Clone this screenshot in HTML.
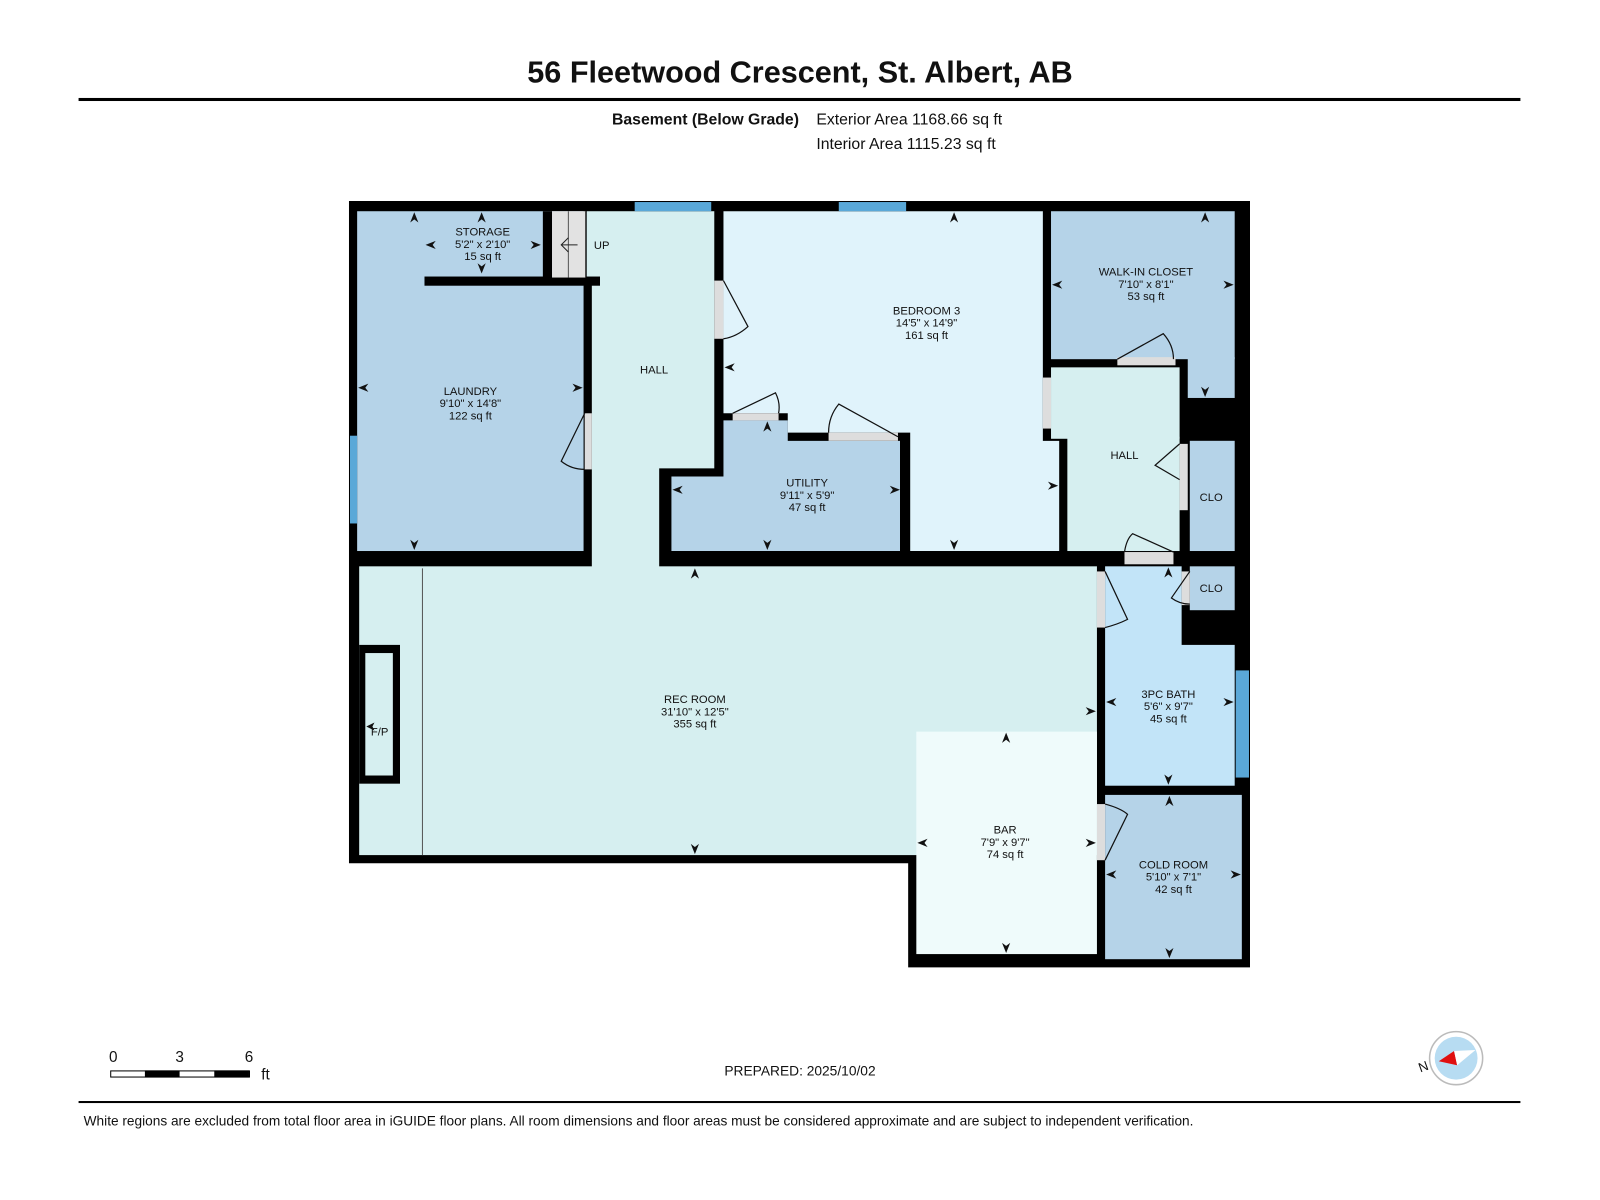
<!DOCTYPE html>
<html><head><meta charset="utf-8"><style>
html,body{margin:0;padding:0;background:#fff}
svg{display:block}
text{font-family:"Liberation Sans",Arial,sans-serif;fill:#111}
.l{font-size:11px;text-anchor:middle}
</style></head><body>
<svg width="1600" height="1200" viewBox="0 0 1568 1176" xmlns="http://www.w3.org/2000/svg">
<rect width="1568" height="1176" fill="#fff"/>
<text x="784" y="81" font-size="30" font-weight="bold" text-anchor="middle">56 Fleetwood Crescent, St. Albert, AB</text>
<rect x="77" y="96" width="1413" height="3" fill="#000"/>
<text x="783" y="122" font-size="15.5" font-weight="bold" text-anchor="end">Basement (Below Grade)</text>
<text x="800" y="122" font-size="15.5">Exterior Area 1168.66 sq ft</text>
<text x="800" y="146" font-size="15.5">Interior Area 1115.23 sq ft</text>

<!-- footprint -->
<polygon points="342,197 1225,197 1225,948 890,948 890,846 342,846" fill="#000"/>
<!-- storage + laundry -->
<rect x="350" y="207" width="222" height="333" fill="#b5d3e8"/>
<rect x="532" y="207" width="9" height="65" fill="#000"/>
<rect x="416" y="271" width="172" height="9" fill="#000"/>
<rect x="572" y="280" width="8" height="272" fill="#000"/>
<!-- stairs -->
<rect x="541" y="207" width="33" height="65" fill="#e2e2e2"/>
<line x1="557" y1="207" x2="557" y2="272" stroke="#555" stroke-width="1"/>
<line x1="574" y1="207" x2="574" y2="272" stroke="#222" stroke-width="1"/>
<path d="M566,240 H550 M557,233 L550,240 L557,247" stroke="#222" fill="none" stroke-width="1"/>
<!-- hall -->
<rect x="575" y="207" width="13" height="64" fill="#d6eff0"/>
<rect x="588" y="207" width="112" height="252" fill="#d6eff0"/>
<rect x="580" y="280" width="66" height="278" fill="#d6eff0"/>
<!-- rec room -->
<rect x="352" y="555" width="723" height="283" fill="#d6eff0"/>
<rect x="898" y="717" width="177" height="218" fill="#effbfb"/>
<line x1="414" y1="557" x2="414" y2="838" stroke="#555" stroke-width="1"/>
<rect x="352" y="632" width="40" height="136" fill="#000"/>
<rect x="358" y="640" width="27" height="120" fill="#d6eff0"/>
<!-- utility -->
<polygon points="658,467 709,467 709,412 772,412 772,432 882,432 882,540 658,540" fill="#b5d3e8"/>
<!-- bedroom -->
<polygon points="709,207 1022,207 1022,432 1038,432 1038,540 892,540 892,424 772,424 772,405 709,405" fill="#e0f3fb"/>
<!-- walk-in -->
<rect x="1030" y="207" width="180" height="145" fill="#b5d3e8"/>
<rect x="1164" y="350" width="46" height="40" fill="#b5d3e8"/>
<!-- hall2 -->
<rect x="1030" y="360" width="126" height="70" fill="#d6eff0"/>
<rect x="1046" y="428" width="110" height="112" fill="#d6eff0"/>
<!-- clo -->
<rect x="1166" y="432" width="44" height="108" fill="#b5d3e8"/>
<!-- bath -->
<rect x="1083" y="555" width="127" height="215" fill="#c2e4f8"/>
<rect x="1158" y="552" width="57" height="80" fill="#000"/>
<rect x="1166" y="555" width="44" height="43" fill="#b5d3e8"/>
<!-- cold room -->
<rect x="1083" y="779" width="134" height="161" fill="#b5d3e8"/>

<!-- windows -->
<rect x="622" y="198" width="75" height="9" fill="#5aa8d8"/>
<rect x="822" y="198" width="66" height="9" fill="#5aa8d8"/>
<rect x="343" y="427" width="7" height="86" fill="#5aa8d8"/>
<rect x="1211" y="657" width="13" height="105" fill="#5aa8d8"/>

<!-- doors -->
<g fill="#ddd" stroke="none">
<rect x="573" y="405" width="7" height="55"/>
<rect x="700" y="275" width="9" height="57"/>
<rect x="718" y="405" width="45" height="7"/>
<rect x="812" y="424" width="68" height="8"/>
<rect x="1022" y="370" width="8" height="50"/>
<rect x="1095" y="350" width="57" height="8"/>
<rect x="1156" y="435" width="8" height="65"/>
<rect x="1102" y="541" width="48" height="12"/>
<rect x="1158" y="560" width="8" height="33"/>
<rect x="1075" y="560" width="8" height="55"/>
<rect x="1075" y="788" width="8" height="55"/>
</g>
<g fill="none" stroke="#111" stroke-width="1.2">
<path d="M573,405 L550,452 Q560,460 573,460"/>
<path d="M709,275 L733,320 Q722,330 709,332"/>
<path d="M718,405 L760,385 Q765,395 763,405"/>
<path d="M880,428 L822,396 Q812,408 812,424"/>
<path d="M1095,352 L1140,327 Q1150,338 1150,352"/>
<path d="M1156,435 L1132,456 L1156,470"/>
<path d="M1102,541 Q1104,528 1110,523 L1150,541"/>
<path d="M1166,560 L1148,586 Q1156,592 1166,592"/>
<path d="M1083,560 L1105,607 Q1095,612 1083,615"/>
<path d="M1083,788 Q1098,792 1105,798 L1083,843"/>
</g>

<!-- dimension arrows -->
<g fill="#111">
<polygon points="406,208 402,218 406,215 410,218"/>
<polygon points="472,208 468,218 472,215 476,218"/>
<polygon points="472,268 468,258 472,261 476,258"/>
<polygon points="417,240 427,236 424,240 427,244"/>
<polygon points="530,240 520,236 523,240 520,244"/>
<polygon points="351,380 361,376 358,380 361,384"/>
<polygon points="571,380 561,376 564,380 561,384"/>
<polygon points="406,539 402,529 406,532 410,529"/>
<polygon points="935,208 931,218 935,215 939,218"/>
<polygon points="935,539 931,529 935,532 939,529"/>
<polygon points="710,360 720,356 717,360 720,364"/>
<polygon points="1037,476 1027,472 1030,476 1027,480"/>
<polygon points="752,413 748,423 752,420 756,423"/>
<polygon points="752,539 748,529 752,532 756,529"/>
<polygon points="659,480 669,476 666,480 669,484"/>
<polygon points="882,480 872,476 875,480 872,484"/>
<polygon points="1181,208 1177,218 1181,215 1185,218"/>
<polygon points="1181,389 1177,379 1181,382 1185,379"/>
<polygon points="1031,279 1041,275 1038,279 1041,283"/>
<polygon points="1209,279 1199,275 1202,279 1199,283"/>
<polygon points="681,557 677,567 681,564 685,567"/>
<polygon points="681,837 677,827 681,830 685,827"/>
<polygon points="359,712 367,708 365,712 367,716"/>
<polygon points="1074,697 1064,693 1067,697 1064,701"/>
<polygon points="986,718 982,728 986,725 990,728"/>
<polygon points="986,934 982,924 986,927 990,924"/>
<polygon points="899,826 909,822 906,826 909,830"/>
<polygon points="1074,826 1064,822 1067,826 1064,830"/>
<polygon points="1145,556 1141,566 1145,563 1149,566"/>
<polygon points="1145,769 1141,759 1145,762 1149,759"/>
<polygon points="1084,688 1094,684 1091,688 1094,692"/>
<polygon points="1209,688 1199,684 1202,688 1199,692"/>
<polygon points="1146,780 1142,790 1146,787 1150,790"/>
<polygon points="1146,939 1142,929 1146,932 1150,929"/>
<polygon points="1084,857 1094,853 1091,857 1094,861"/>
<polygon points="1216,857 1206,853 1209,857 1206,861"/>
</g>

<!-- labels -->
<text class="l" x="473" y="231">STORAGE</text><text class="l" x="473" y="243">5'2" x 2'10"</text><text class="l" x="473" y="255">15 sq ft</text>
<text x="582" y="244" font-size="11">UP</text>
<text class="l" x="461" y="387">LAUNDRY</text><text class="l" x="461" y="399">9'10" x 14'8"</text><text class="l" x="461" y="411">122 sq ft</text>
<text class="l" x="641" y="366">HALL</text>
<text class="l" x="908" y="308">BEDROOM 3</text><text class="l" x="908" y="320">14'5" x 14'9"</text><text class="l" x="908" y="332">161 sq ft</text>
<text class="l" x="1123" y="270">WALK-IN CLOSET</text><text class="l" x="1123" y="282">7'10" x 8'1"</text><text class="l" x="1123" y="294">53 sq ft</text>
<text class="l" x="1102" y="450">HALL</text>
<text class="l" x="1187" y="491">CLO</text>
<text class="l" x="1187" y="580">CLO</text>
<text class="l" x="791" y="477">UTILITY</text><text class="l" x="791" y="489">9'11" x 5'9"</text><text class="l" x="791" y="501">47 sq ft</text>
<text class="l" x="681" y="689">REC ROOM</text><text class="l" x="681" y="701">31'10" x 12'5"</text><text class="l" x="681" y="713">355 sq ft</text>
<text class="l" x="372" y="721">F/P</text>
<text class="l" x="1145" y="684">3PC BATH</text><text class="l" x="1145" y="696">5'6" x 9'7"</text><text class="l" x="1145" y="708">45 sq ft</text>
<text class="l" x="985" y="817">BAR</text><text class="l" x="985" y="829">7'9" x 9'7"</text><text class="l" x="985" y="841">74 sq ft</text>
<text class="l" x="1150" y="851">COLD ROOM</text><text class="l" x="1150" y="863">5'10" x 7'1"</text><text class="l" x="1150" y="875">42 sq ft</text>

<!-- scale -->
<rect x="108.5" y="1049.5" width="136" height="6" fill="#fff" stroke="#000" stroke-width="1"/>
<rect x="142" y="1049" width="34" height="7" fill="#000"/>
<rect x="210" y="1049" width="34" height="7" fill="#000"/>
<text x="111" y="1041" font-size="15" text-anchor="middle">0</text>
<text x="176" y="1041" font-size="15" text-anchor="middle">3</text>
<text x="244" y="1041" font-size="15" text-anchor="middle">6</text>
<text x="256" y="1058" font-size="15">ft</text>
<text x="784" y="1054" font-size="13.5" text-anchor="middle">PREPARED: 2025/10/02</text>
<!-- compass -->
<circle cx="1427" cy="1037" r="26" fill="#fff" stroke="#bbb" stroke-width="1.5"/>
<circle cx="1427" cy="1037" r="21" fill="#b7dcf2"/>
<polygon points="1410,1040 1425,1030 1428,1044" fill="#e01010"/>
<polygon points="1425,1030 1446,1029 1428,1044" fill="#fff"/>
<text x="1392" y="1051" font-size="13" transform="rotate(-20 1392 1051)">N</text>

<rect x="77" y="1079" width="1413" height="2" fill="#000"/>
<text x="82" y="1103" font-size="13.4">White regions are excluded from total floor area in iGUIDE floor plans. All room dimensions and floor areas must be considered approximate and are subject to independent verification.</text>
</svg>
</body></html>
